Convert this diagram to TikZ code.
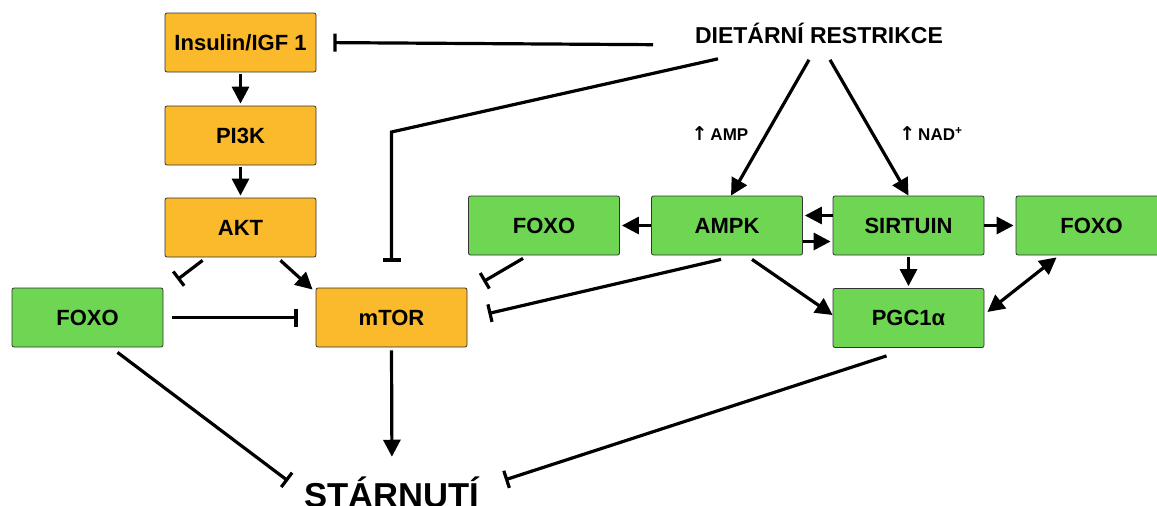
\documentclass[tikz,border=0pt]{standalone}
\usepackage{fontspec}
\setmainfont{Liberation Sans}
\newfontfamily\symfont{DejaVu Sans}
\usetikzlibrary{positioning, arrows.meta}
\definecolor{orbox}{RGB}{251,185,44}
\definecolor{grbox}{RGB}{110,214,82}
\tikzset{>={Triangle[length=17pt,width=17pt]},node distance=183pt,
box/.style={draw=black!80, line width=0.8pt, rounded corners=2pt, minimum width=151pt, minimum height=59pt, font=\fontsize{22}{26}\selectfont\bfseries},
orangebox/.style={box, fill=orbox},
greenbox/.style={box, fill=grbox},
act/.style={->},
inh/.style={-{Bar[width=18pt]}},
both/.style={<->}}

\begin{document}
\begin{tikzpicture}[x=1pt,y=-1pt,line width=3.2pt]
\useasboundingbox (0,0) rectangle (1157,506);
\clip (0,0) rectangle (1157,506);
\node[orangebox] (insulin) at (240.5,42.5) {Insulin/IGF 1};
\node[orangebox, below of=insulin, node distance=93pt] (pik) {PI3K};
\node[orangebox, below of=pik, node distance=92pt] (akt) {AKT};
\node[greenbox] (foxoL) at (87.5,317.5) {FOXO};
\node[orangebox, right of=foxoL, node distance=304pt] (mtor) {mTOR};
\node[greenbox] (foxoM) at (544,225.5) {FOXO};
\node[greenbox, right of=foxoM] (ampk) {AMPK};
\node[greenbox, right of=ampk, node distance=181.5pt] (sirt) {SIRTUIN};
\node[greenbox, right of=sirt] (foxoR) {FOXO};
\node[greenbox, below of=sirt, node distance=92.5pt] (pgc) {PGC1α};
\node[anchor=base, inner sep=0pt, font=\fontsize{23}{27}\selectfont\bfseries] (dr) at (819,43) {DIETÁRNÍ RESTRIKCE};
\node[anchor=base, inner sep=0pt, font=\fontsize{34.6}{40}\selectfont\bfseries] (starnuti) at (392,507) {STÁRNUTÍ};
\node[font=\fontsize{17}{20}\selectfont\bfseries] (amp) at (720,134) {{\symfont\fontsize{19}{20}\selectfont ↑}\,AMP};
\node[font=\fontsize{17}{20}\selectfont\bfseries] (nad) at (931,134) {{\symfont\fontsize{19}{20}\selectfont ↑}\,NAD\textsuperscript{+}};
\coordinate (bend) at (391.5,132);
\draw[inh, shorten <=20pt, shorten >=17pt] ([xshift=-146pt]dr.south) -- (insulin.east);
\draw[inh, shorten >=26pt] ([shift={(-101,14)}]dr.south) -- (bend) -- (mtor.north);
\draw[act] ([shift={(-10,15)}]dr.south) -- ([xshift=4pt]ampk.north);
\draw[act] ([shift={(11,15)}]dr.south) -- (sirt.north);
\draw[act, shorten <=2pt, shorten >=2pt] (insulin) -- (pik);
\draw[act, shorten <=2pt, shorten >=2pt] (pik) -- (akt);
\draw[inh] ([shift={(38,3)}]akt.south west) -- ([shift={(14,-8)}]foxoL.north east);
\draw[act] ([shift={(-36,3)}]akt.south east) -- ([shift={(-3,2)}]mtor.north west);
\draw[inh, shorten <=9pt, shorten >=18pt] (foxoL) -- (mtor);
\draw[inh] ([shift={(30,5)}]foxoL.south) -- ([shift={(-15,-11)}]starnuti.west);
\draw[act, shorten <=3pt, shorten >=18pt] (mtor.south) -- (starnuti.north);
\draw[inh] ([shift={(-21,3)}]foxoM.south) -- ([shift={(16,-6)}]mtor.north east);
\draw[inh] ([shift={(-6,4)}]ampk.south) -- ([shift={(21,-4)}]mtor.east);
\draw[act, shorten >=2pt] (ampk) -- (foxoM);
\draw[act, shorten >=2pt] ([yshift=10pt]sirt.west) -- ([yshift=10pt]ampk.east);
\draw[act, shorten >=2pt] ([yshift=-16pt]ampk.east) -- ([yshift=-16pt]sirt.west);
\draw[act, shorten >=2pt] (sirt) -- (foxoR);
\draw[act, shorten <=2pt, shorten >=2pt] (sirt) -- (pgc);
\draw[act] ([shift={(25,4)}]ampk.south) -- ([yshift=3pt]pgc.west);
\draw[both] ([shift={(3,-6)}]pgc.east) -- ([shift={(41,2)}]foxoR.south west);
\draw[inh] ([shift={(-22,8)}]pgc.south) -- ([shift={(24,-12)}]starnuti.east);
\end{tikzpicture}
\end{document}
